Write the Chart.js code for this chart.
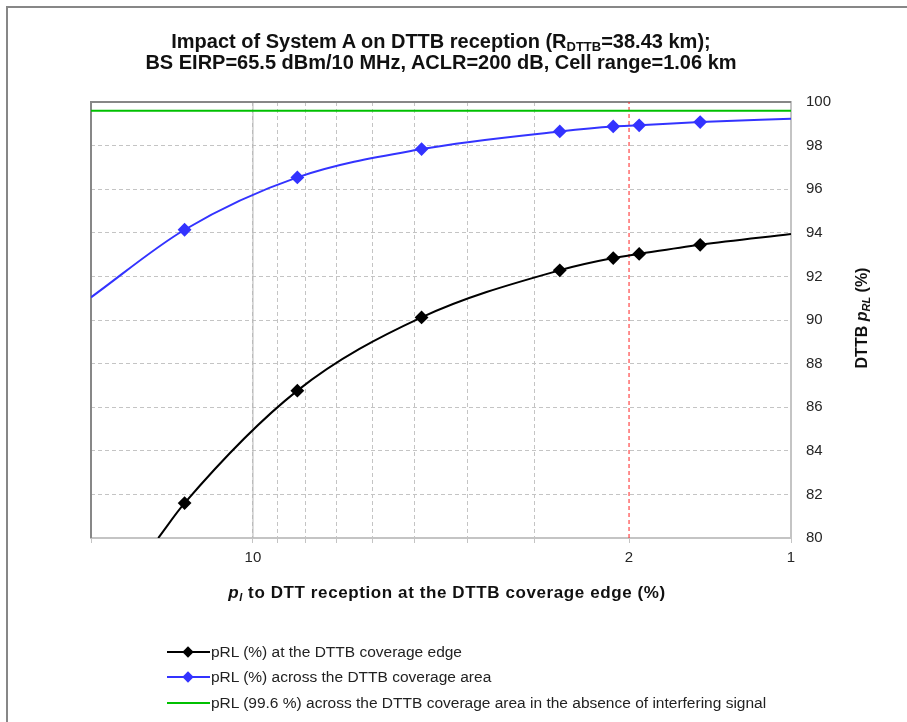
<!DOCTYPE html>
<html lang="en">
<head>
  <meta charset="UTF-8" />
  <title>Impact of System A on DTTB reception</title>
  <script src="https://cdn.jsdelivr.net/npm/chart.js"></script>
  <style>
    html, body {
      margin: 0;
      padding: 0;
      width: 907px;
      height: 722px;
      overflow: hidden;
      background: #fff;
      font-family: "Liberation Sans", Arial, sans-serif;
      color: #1a1a1a;
    }
    .frame {
      position: absolute;
      left: 6px;
      top: 6px;
      width: 1000px;
      height: 1000px;
      border: 2px solid #878787;
    }
    #wrap {
      position: absolute;
      left: 0;
      top: 0;
      width: 907px;
      height: 722px;
    }
    .title {
      position: absolute;
      left: 86px;
      width: 710px;
      top: 31px;
      text-align: center;
      font-weight: bold;
      font-size: 20px;
      line-height: 21px;
      color: #111;
    }
    .title sub { font-size: 13px; vertical-align: -3px; line-height: 0; }
    .xtitle {
      position: absolute;
      left: 97px;
      width: 700px;
      top: 583px;
      line-height: 20px;
      text-align: center;
      font-weight: bold;
      font-size: 17px;
      letter-spacing: 0.6px;
      color: #111;
    }
    .ytitle {
      position: absolute;
      left: 762px;
      top: 308px;
      width: 200px;
      height: 20px;
      line-height: 20px;
      text-align: center;
      font-weight: bold;
      font-size: 16px;
      color: #111;
      transform: rotate(-90deg);
    }
    sub { font-size: 11px; vertical-align: -3px; line-height: 0; }
    i { font-style: italic; }
    .legend {
      position: absolute;
      left: 167px;
      top: 639px;
      font-size: 15.5px;
      color: #222;
    }
    .legend .row { height: 25.5px; display: flex; align-items: center; }
    .legend svg { margin-right: 1px; }
  </style>
</head>
<body>
  <div class="frame"></div>
  <div id="wrap"><canvas id="chart" width="907" height="722"></canvas></div>

  <div class="title">
    Impact of System A on DTTB reception (R<sub>DTTB</sub>=38.43 km);<br>
    BS EIRP=65.5 dBm/10 MHz, ACLR=200 dB, Cell range=1.06 km
  </div>
  <div class="xtitle"><i>p<sub>I</sub></i> to DTT reception at the DTTB coverage edge (%)</div>
  <div class="ytitle">DTTB <i>p<sub>RL</sub></i> (%)</div>

  <div class="legend">
    <div class="row">
      <svg width="43" height="14"><line x1="0" y1="7" x2="43" y2="7" stroke="#000" stroke-width="2"/><rect x="17" y="3" width="8" height="8" fill="#000" transform="rotate(45 21 7)"/></svg>
      <span>pRL (%) at the DTTB coverage edge</span>
    </div>
    <div class="row">
      <svg width="43" height="14"><line x1="0" y1="7" x2="43" y2="7" stroke="#3333ff" stroke-width="2"/><rect x="17" y="3" width="8" height="8" fill="#3333ff" transform="rotate(45 21 7)"/></svg>
      <span>pRL (%) across the DTTB coverage area</span>
    </div>
    <div class="row">
      <svg width="43" height="14"><line x1="0" y1="7" x2="43" y2="7" stroke="#00c000" stroke-width="2"/></svg>
      <span>pRL (99.6 %) across the DTTB coverage area in the absence of interfering signal</span>
    </div>
  </div>

  <script>
    // values (x = pI %, y = pRL %)
    const edgeX = [15, 13.4, 8.27, 4.86, 2.69, 2.14, 1.915, 1.475, 1];
    const edgeY = [80, 81.6, 86.76, 90.12, 92.28, 92.84, 93.03, 93.45, 93.94];
    const areaX = [20, 13.4, 8.27, 4.86, 2.69, 2.14, 1.915, 1.475, 1];
    const areaY = [91.04, 94.14, 96.54, 97.84, 98.65, 98.88, 98.93, 99.08, 99.23];
    const noInterference = 99.6;
    const thresholdX = 2;
    const xRange = [20, 1];
    const yRange = [80, 100];
    const xTickValues = [20, 10, 9, 8, 7, 6, 5, 4, 3, 2, 1];
    const xTickLabels = ['10', '2', '1'];

    const toPoints = (xs, ys) => xs.map((x, i) => ({ x: x, y: ys[i] }));
    // curve ends carry no marker
    const markerRadius = (xs) => xs.map((x, i) => (i === 0 || i === xs.length - 1) ? 0 : 5.5);

    // left/top frame of the plot and the solid line at 10
    const plotFrame = {
      id: 'plotFrame',
      beforeDatasetsDraw(chart) {
        const { ctx, chartArea: a, scales } = chart;
        ctx.save();
        const x10 = scales.x.getPixelForValue(10);
        ctx.strokeStyle = '#b4b4b4';
        ctx.lineWidth = 1;
        ctx.beginPath();
        ctx.moveTo(x10, a.top);
        ctx.lineTo(x10, a.bottom);
        ctx.stroke();
        ctx.strokeStyle = '#878787';
        ctx.lineWidth = 2;
        ctx.beginPath();
        ctx.moveTo(a.left, a.bottom);
        ctx.lineTo(a.left, a.top);
        ctx.lineTo(a.right, a.top);
        ctx.stroke();
        ctx.restore();
      }
    };

    new Chart(document.getElementById('chart'), {
      type: 'line',
      data: {
        datasets: [
          {
            label: 'pRL (%) at the DTTB coverage edge',
            data: toPoints(edgeX, edgeY),
            borderColor: '#000',
            backgroundColor: '#000',
            borderWidth: 2,
            pointStyle: 'rectRot',
            pointRadius: markerRadius(edgeX),
            cubicInterpolationMode: 'monotone',
            order: 1
          },
          {
            label: 'pRL (%) across the DTTB coverage area',
            data: toPoints(areaX, areaY),
            borderColor: '#3333ff',
            backgroundColor: '#3333ff',
            borderWidth: 2,
            pointStyle: 'rectRot',
            pointRadius: markerRadius(areaX),
            cubicInterpolationMode: 'monotone',
            order: 2
          },
          {
            label: 'pRL (99.6 %) across the DTTB coverage area in the absence of interfering signal',
            data: toPoints(xRange, [noInterference, noInterference]),
            borderColor: '#00c000',
            borderWidth: 2,
            pointRadius: 0,
            order: 3
          },
          {
            label: 'threshold',
            data: toPoints([thresholdX, thresholdX], yRange),
            borderColor: '#ff2020',
            borderWidth: 1,
            borderDash: [4, 3],
            pointRadius: 0,
            order: 4
          }
        ]
      },
      options: {
        responsive: false,
        animation: false,
        layout: { padding: { left: 91, top: 102, right: 46, bottom: 144 } },
        plugins: {
          legend: { display: false },
          tooltip: { enabled: false },
          title: { display: false }
        },
        scales: {
          x: {
            type: 'logarithmic',
            reverse: true,
            min: xRange[1],
            max: xRange[0],
            afterBuildTicks: (scale) => { scale.ticks = xTickValues.map(v => ({ value: v })); },
            afterFit: (scale) => { scale.height = 40; },
            ticks: {
              autoSkip: false,
              maxRotation: 0,
              padding: 6,
              color: '#262626',
              font: { family: 'Liberation Sans', size: 15 },
              callback: (v) => xTickLabels.includes(String(v)) ? String(v) : ''
            },
            grid: {
              color: (c) => (c.tick && c.tick.value === thresholdX) ? 'rgba(0,0,0,0)' : '#c4c4c4',
              tickColor: '#c4c4c4',
              tickLength: 5
            },
            border: { color: '#c4c4c4', width: 2, dash: [4, 3] }
          },
          y: {
            position: 'right',
            min: yRange[0],
            max: yRange[1],
            afterFit: (scale) => { scale.width = 70; },
            ticks: {
              stepSize: 2,
              padding: 15,
              color: '#262626',
              font: { family: 'Liberation Sans', size: 15 }
            },
            grid: { color: '#c4c4c4', drawTicks: false },
            border: { color: '#c4c4c4', width: 2, dash: [4, 3] }
          }
        }
      },
      plugins: [plotFrame]
    });
  </script>
</body>
</html>
